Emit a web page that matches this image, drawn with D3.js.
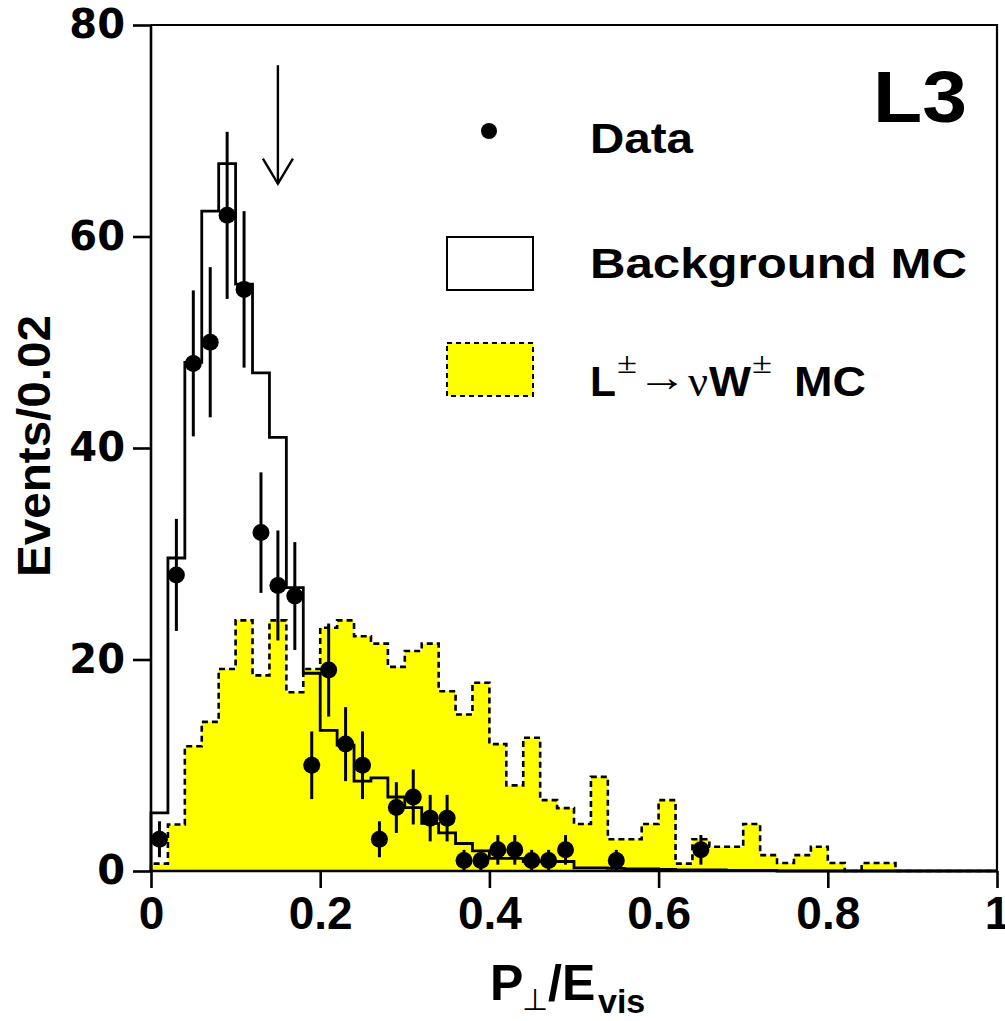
<!DOCTYPE html>
<html>
<head>
<meta charset="utf-8">
<script src="https://cdn.jsdelivr.net/npm/d3@7"></script>
<style>
  body { margin: 0; background: #fff; }
  svg { display: block; }
</style>
</head>
<body>
<div id="container"></div>
<script>
/* CONSTANTS AND GLOBALS */
const width = 1005,
  height = 1021,
  margin = { top: 25, bottom: 150, left: 151, right: 8 };

/* DATA (bins of 0.02 from 0 to 1) */
const binWidth = 0.02;
const backgroundMC = [5.5, 29.6, 48.1, 62.4, 66.9, 55.5, 47.1, 41.0, 26.8, 18.7,
  13.3, 11.9, 8.5, 8.8, 7.0, 6.0, 4.5, 3.6, 2.6, 1.9,
  1.2, 1.2, 0.9, 0.9, 0.9, 0.3, 0.3, 0.25, 0.2, 0.2,
  0.15, 0.1, 0.1, 0.1, 0.05, 0.05, 0.05, 0, 0, 0,
  0, 0, 0, 0, 0, 0, 0, 0, 0, 0];
const signalMC = [0.7, 4.4, 11.8, 14.1, 19.1, 23.7, 18.5, 23.7, 16.9, 19.1,
  23.0, 23.7, 22.2, 21.5, 19.3, 20.8, 21.5, 17.0, 14.8, 17.8,
  12.0, 8.1, 12.6, 6.7, 5.95, 4.45, 8.9, 3.0, 3.0, 4.45,
  6.7, 0.7, 3.0, 2.3, 2.3, 4.45, 1.5, 0.75, 1.5, 2.3,
  0.75, 0, 0.75, 0.75, 0, 0, 0, 0, 0, 0];
const dataX = [0.01, 0.03, 0.05, 0.07, 0.09, 0.11, 0.13, 0.15, 0.17, 0.19,
  0.21, 0.23, 0.25, 0.27, 0.29, 0.31, 0.33, 0.35, 0.37, 0.39,
  0.41, 0.43, 0.45, 0.47, 0.49, 0.55, 0.65];
const dataY = [3, 28, 48, 50, 62, 55, 32, 27, 26, 10,
  19, 12, 10, 3, 6, 7, 5, 5, 1, 1,
  2, 2, 1, 1, 2, 1, 2];
const dataErr = [1.7, 5.3, 6.9, 7.1, 7.9, 7.4, 5.7, 5.2, 5.1, 3.2,
  4.4, 3.5, 3.2, 1.7, 2.4, 2.6, 2.2, 2.2, 1, 1,
  1.4, 1.4, 1, 1, 1.4, 1, 1.4];
const xMajorTicks = [0, 0.2, 0.4, 0.6, 0.8, 1];
const xTickLabels = ["0", "0.2", "0.4", "0.6", "0.8", "1"];
const yMajorTicks = [0, 20, 40, 60, 80];
// cut arrow at 0.15
const cutX = 0.15, cutTop = 76.2, cutTip = 65;

const svg = d3.select("#container")
  .append("svg")
  .attr("width", width)
  .attr("height", height);

// SCALES
const x = d3.scaleLinear().domain([0, 1]).range([margin.left, width - margin.right]);
const y = d3.scaleLinear().domain([0, 80]).range([height - margin.bottom, margin.top]);

// step path of a histogram
function stepPath(values) {
  const pts = [[0, 0]];
  values.forEach((v, i) => {
    pts.push([i * binWidth, v]);
    pts.push([(i + 1) * binWidth, v]);
  });
  pts.push([values.length * binWidth, 0]);
  return d3.line().x(d => x(d[0])).y(d => y(d[1]))(pts);
}

// SIGNAL MC (yellow, dashed outline)
svg.append("path")
  .attr("d", stepPath(signalMC))
  .attr("fill", "#ffff00")
  .attr("stroke", "none");
svg.append("path")
  .attr("d", stepPath(signalMC))
  .attr("fill", "none")
  .attr("stroke", "#000")
  .attr("stroke-width", 2.6)
  .attr("stroke-dasharray", "6,4");

// BACKGROUND MC (solid)
svg.append("path")
  .attr("d", stepPath(backgroundMC))
  .attr("fill", "none")
  .attr("stroke", "#000")
  .attr("stroke-width", 2.8);

// DATA with error bars
const points = dataX.map((d, i) => ({ x: d, y: dataY[i], e: dataErr[i] }));
svg.selectAll("line.err")
  .data(points)
  .join("line")
  .attr("class", "err")
  .attr("x1", d => x(d.x)).attr("x2", d => x(d.x))
  .attr("y1", d => y(Math.max(0, d.y - d.e))).attr("y2", d => y(d.y + d.e))
  .attr("stroke", "#000")
  .attr("stroke-width", 3);
svg.selectAll("circle.pt")
  .data(points)
  .join("circle")
  .attr("class", "pt")
  .attr("cx", d => x(d.x))
  .attr("cy", d => y(d.y))
  .attr("r", 8.5)
  .attr("fill", "#000");

// AXES
const xMinor = d3.range(0, 1.0001, 0.04);
const yMinor = d3.range(0, 80.001, 4);
const axisColor = "#000";

const gx = svg.append("g").attr("class", "xaxis").attr("transform", `translate(0,${y(0)})`);
gx.call(d3.axisBottom(x).tickValues(xMinor).tickSize(9).tickFormat(""));
gx.call(d3.axisBottom(x).tickValues(xMajorTicks).tickSize(17)
  .tickFormat((d, i) => xTickLabels[i]).tickPadding(8));
gx.selectAll("text")
  .attr("font-family", "'Liberation Sans', Arial, sans-serif")
  .attr("font-weight", "bold")
  .attr("font-size", 46)
  .attr("fill", "#000");
gx.select(".domain").attr("d", `M${x(0)},0H${x(1)}`);

const gy = svg.append("g").attr("class", "yaxis").attr("transform", `translate(${x(0)},0)`);
gy.call(d3.axisLeft(y).tickValues(yMinor).tickSize(10).tickFormat(""));
gy.call(d3.axisLeft(y).tickValues(yMajorTicks).tickSize(18).tickPadding(8));
gy.selectAll("text")
  .attr("font-family", "'DejaVu Sans', sans-serif")
  .attr("font-weight", "bold")
  .attr("font-size", 40)
  .attr("fill", "#000");
gy.select(".domain").attr("d", `M0,${y(0)}V${y(80)}`);

svg.selectAll(".domain").attr("stroke", axisColor).attr("stroke-width", 2.6);
svg.selectAll(".tick line").attr("stroke", axisColor).attr("stroke-width", 2.6);

// frame top & right
svg.append("path")
  .attr("d", `M${x(0)},${y(80)}H${x(1)}V${y(0)}`)
  .attr("fill", "none")
  .attr("stroke", "#000")
  .attr("stroke-width", 2.2);

// AXIS TITLES
const font = "'Liberation Sans', Arial, sans-serif";
const serif = "'Liberation Serif', 'DejaVu Serif', serif";

svg.append("text")
  .attr("transform", `translate(50,${(y(0) + y(80)) / 2 - 2}) rotate(-90)`)
  .attr("text-anchor", "middle")
  .attr("font-family", font)
  .attr("font-weight", "bold")
  .attr("font-size", 46)
  .attr("textLength", 262)
  .attr("lengthAdjust", "spacingAndGlyphs")
  .text("Events/0.02");

const xTitle = [
  { t: "P", x: 490, y: 1000, size: 50, weight: "bold", fam: font },
  { t: "⊥", x: 522, y: 1010, size: 30, weight: "normal", fam: font },
  { t: "/E", x: 548, y: 1000, size: 50, weight: "bold", fam: font },
  { t: "vis", x: 598, y: 1013, size: 34, weight: "bold", fam: font }
];
svg.selectAll("text.xtitle")
  .data(xTitle)
  .join("text")
  .attr("class", "xtitle")
  .attr("x", d => d.x).attr("y", d => d.y)
  .attr("font-family", d => d.fam)
  .attr("font-weight", d => d.weight)
  .attr("font-size", d => d.size)
  .text(d => d.t);

// CUT ARROW
const arrow = svg.append("g")
  .attr("stroke", "#000")
  .attr("stroke-width", 2.4)
  .attr("fill", "none");
arrow.append("line")
  .attr("x1", x(cutX)).attr("x2", x(cutX))
  .attr("y1", y(cutTop)).attr("y2", y(cutTip));
arrow.append("path")
  .attr("d", `M${x(cutX) - 15},${y(cutTip) - 25}L${x(cutX)},${y(cutTip)}L${x(cutX) + 15},${y(cutTip) - 25}`);

// LEGEND
svg.append("circle").attr("cx", 489).attr("cy", 131).attr("r", 8).attr("fill", "#000");
svg.append("rect")
  .attr("x", 447).attr("y", 237).attr("width", 86).attr("height", 53)
  .attr("fill", "#fff").attr("stroke", "#000").attr("stroke-width", 2);
svg.append("rect")
  .attr("x", 447).attr("y", 343).attr("width", 86).attr("height", 53)
  .attr("fill", "#ffff00").attr("stroke", "#000").attr("stroke-width", 2)
  .attr("stroke-dasharray", "5,4");

const legendLabels = [
  { y: 153, text: "Data", len: 103 },
  { y: 278, text: "Background MC", len: 377 }
];
svg.selectAll("text.leg")
  .data(legendLabels)
  .join("text")
  .attr("class", "leg")
  .attr("x", 590)
  .attr("y", d => d.y)
  .attr("font-family", font)
  .attr("font-weight", "bold")
  .attr("font-size", 43)
  .attr("textLength", d => d.len)
  .attr("lengthAdjust", "spacingAndGlyphs")
  .text(d => d.text);

// signal label pieces: L ± → ν W ± MC
const sigParts = [
  { t: "L", x: 590, y: 396, size: 43, weight: "bold", fam: font, len: 26 },
  { t: "±", x: 617, y: 373, size: 30, weight: "normal", fam: serif, len: 20 },
  { t: "→", x: 637, y: 391, size: 40, weight: "normal", fam: serif, len: 50 },
  { t: "ν", x: 688, y: 396, size: 44, weight: "normal", fam: serif, len: 20 },
  { t: "W", x: 709, y: 396, size: 43, weight: "bold", fam: font, len: 42 },
  { t: "±", x: 752, y: 373, size: 30, weight: "normal", fam: serif, len: 20 },
  { t: "MC", x: 794, y: 396, size: 43, weight: "bold", fam: font, len: 72 }
];
svg.selectAll("text.sig")
  .data(sigParts)
  .join("text")
  .attr("class", "sig")
  .attr("x", d => d.x).attr("y", d => d.y)
  .attr("font-family", d => d.fam)
  .attr("font-weight", d => d.weight)
  .attr("font-size", d => d.size)
  .attr("textLength", d => d.len)
  .attr("lengthAdjust", "spacingAndGlyphs")
  .text(d => d.t);

// EXPERIMENT LABEL
svg.append("text")
  .attr("x", 873).attr("y", 122)
  .attr("font-family", font)
  .attr("font-weight", "bold")
  .attr("font-size", 72)
  .attr("textLength", 94)
  .attr("lengthAdjust", "spacingAndGlyphs")
  .text("L3");
</script>
</body>
</html>
